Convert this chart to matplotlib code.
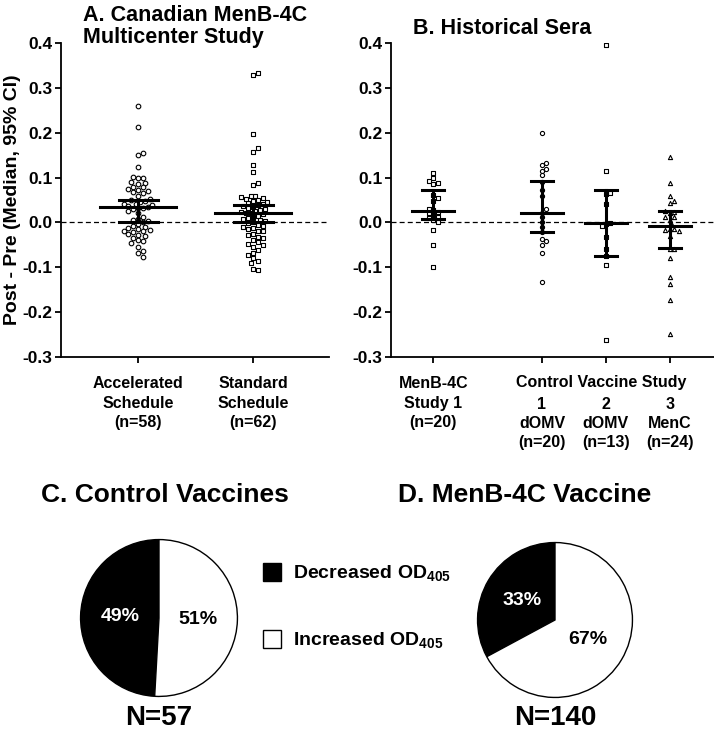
import numpy as np
import matplotlib
matplotlib.use("Agg")
import matplotlib.pyplot as plt
from matplotlib.patches import Patch
from matplotlib.ticker import FormatStrFormatter
import matplotlib.transforms as mtransforms

plt.rcParams["font.family"] = ["Liberation Sans", "DejaVu Sans"]
plt.rcParams["font.weight"] = "bold"
plt.rcParams["axes.labelweight"] = "bold"
plt.rcParams["axes.unicode_minus"] = False
plt.rcParams["mathtext.fontset"] = "custom"
plt.rcParams["mathtext.rm"] = "Liberation Sans:bold"
plt.rcParams["mathtext.bf"] = "Liberation Sans:bold"

# ---- Panel A: Canadian MenB-4C multicenter study (post - pre OD) ----
accelerated = [0.260, 0.213, 0.154, 0.151, 0.123, 0.102, 0.100, 0.098, 0.090, 0.088,
               0.085, 0.080, 0.078, 0.075, 0.072, 0.070, 0.067, 0.065, 0.060, 0.052,
               0.050, 0.047, 0.045, 0.042, 0.040, 0.038, 0.036, 0.035, 0.033, 0.032,
               0.030, 0.025, 0.020, 0.012, 0.008, 0.005, 0.003, 0.000, -0.003, -0.008,
               -0.010, -0.012, -0.015, -0.017, -0.018, -0.020, -0.022, -0.025, -0.028,
               -0.030, -0.035, -0.040, -0.042, -0.045, -0.055, -0.063, -0.068, -0.077]
standard = [0.333, 0.328, 0.198, 0.165, 0.158, 0.128, 0.113, 0.087, 0.083, 0.060,
            0.058, 0.057, 0.055, 0.053, 0.050, 0.048, 0.045, 0.043, 0.040, 0.038,
            0.037, 0.035, 0.032, 0.030, 0.028, 0.025, 0.023, 0.022, 0.020, 0.018,
            0.015, 0.012, 0.010, 0.008, 0.005, 0.003, 0.000, -0.002, -0.005, -0.008,
            -0.010, -0.013, -0.015, -0.018, -0.020, -0.025, -0.028, -0.032, -0.035,
            -0.040, -0.043, -0.047, -0.050, -0.055, -0.062, -0.068, -0.072, -0.080,
            -0.085, -0.090, -0.104, -0.106]
a_groups = [accelerated, standard]
a_labels = ["Accelerated\nSchedule\n(n=58)", "Standard\nSchedule\n(n=62)"]
a_markers = ["o", "s"]
a_median = [0.034, 0.022]
a_ci_low = [0.002, 0.000]
a_ci_high = [0.049, 0.039]

# ---- Panel B: historical sera ----
menb_study1 = [0.110, 0.098, 0.092, 0.089, 0.086, 0.062, 0.055, 0.048, 0.030, 0.027,
               0.023, 0.020, 0.017, 0.013, 0.010, 0.006, 0.001, -0.016, -0.051, -0.100]
ctrl1_domv = [0.200, 0.133, 0.128, 0.120, 0.115, 0.105, 0.090, 0.072, 0.060, 0.030,
              0.022, 0.012, 0.000, -0.010, -0.022, -0.037, -0.042, -0.050, -0.068, -0.132]
ctrl2_domv = [0.395, 0.115, 0.066, 0.063, 0.042, -0.002, -0.004, -0.007, -0.033,
              -0.059, -0.075, -0.096, -0.262]
ctrl3_menc = [0.145, 0.089, 0.058, 0.047, 0.043, 0.025, 0.024, 0.022, 0.013, 0.012,
              0.005, -0.005, -0.014, -0.015, -0.016, -0.018, -0.031, -0.059, -0.060,
              -0.079, -0.122, -0.137, -0.172, -0.248]
b_groups = [menb_study1, ctrl1_domv, ctrl2_domv, ctrl3_menc]
b_pos = [0, 1.7, 2.7, 3.7]
b_labels = ["MenB-4C\nStudy 1\n(n=20)", "1\ndOMV\n(n=20)", "2\ndOMV\n(n=13)", "3\nMenC\n(n=24)"]
b_group_label = "Control Vaccine Study"
b_markers = ["s", "o", "s", "^"]
b_median = [0.025, 0.022, -0.002, -0.008]
b_ci_low = [0.007, -0.021, -0.075, -0.057]
b_ci_high = [0.072, 0.092, 0.073, 0.025]

# ---- Panels C/D: subjects with decreased / increased OD405 ----
control_counts = [28, 29]   # decreased, increased
menb_counts = [46, 94]

Y_PX = 447.0  # pixels per OD unit on the y axis


def swarm(vals, d_px, x_px):
    """Simple deterministic beeswarm offsets (in data x units)."""
    ys = np.asarray(vals) * Y_PX
    order = np.argsort(np.abs(ys - np.median(ys)))
    placed = []
    xs = np.zeros(len(vals))
    steps = [0.0]
    for k in range(1, 40):
        steps += [k * d_px * 0.5, -k * d_px * 0.5]
    for i in order:
        for s in steps:
            if all((s - px) ** 2 + (ys[i] - py) ** 2 >= d_px ** 2 for px, py in placed):
                placed.append((s, ys[i]))
                xs[i] = s / x_px
                break
    return xs


def dot_panel(ax, groups, pos, markers, med, lo, hi, x_px, msize, d_px):
    for g, x0, m, md, l, h in zip(groups, pos, markers, med, lo, hi):
        off = swarm(g, d_px, x_px)
        ax.scatter(x0 + off, g, marker=m, s=msize, facecolor="white",
                   edgecolor="black", linewidth=0.8, zorder=3)
        ax.plot([x0, x0], [l, h], color="black", lw=2.2, zorder=4)
        ax.plot([x0 - 0.17, x0 + 0.17], [l, l], color="black", lw=2.2, zorder=4)
        ax.plot([x0 - 0.17, x0 + 0.17], [h, h], color="black", lw=2.2, zorder=4)
        ax.plot([x0 - 0.33, x0 + 0.33], [md, md], color="black", lw=2.2, zorder=4)
    ax.axhline(0, color="black", lw=0.9, ls=(0, (4, 2.5)), zorder=2)
    ax.set_ylim(-0.3, 0.4)
    ax.set_yticks(np.arange(-0.3, 0.41, 0.1))
    ax.yaxis.set_major_formatter(FormatStrFormatter("%.1f"))
    for side in ["top", "right"]:
        ax.spines[side].set_visible(False)
    for side in ["left", "bottom"]:
        ax.spines[side].set_linewidth(1.3)
    ax.tick_params(width=1.3, length=4, labelsize=12.5, pad=2)
    ax.tick_params(axis="x", labelsize=11.5, pad=10)


fig = plt.figure(figsize=(7.14, 7.3), dpi=100)

axA = fig.add_axes([61 / 714, 1 - 357 / 730, 268 / 714, 314 / 730])
dot_panel(axA, a_groups, [0, 1], a_markers, a_median, a_ci_low, a_ci_high,
          115, 11, 4.8)
axA.set_xlim(-0.67, 1.66)
axA.set_xticks([0, 1])
axA.set_xticklabels(a_labels, linespacing=1.35)
axA.set_ylabel("Post - Pre (Median, 95% CI)", fontsize=14, labelpad=1)
fig.text(83 / 714, 1 - 5 / 730, "A. Canadian MenB-4C\nMulticenter Study",
         ha="left", va="top", fontsize=15.5, linespacing=1.05)

axB = fig.add_axes([391 / 714, 1 - 357 / 730, 323 / 714, 314 / 730])
dot_panel(axB, b_groups, b_pos, b_markers, b_median, b_ci_low, b_ci_high,
          64, 9, 4.4)
axB.set_xlim(-0.66, 4.39)
axB.set_xticks(b_pos)
axB.set_xticklabels(b_labels, linespacing=1.35)
for tick in axB.xaxis.get_major_ticks()[1:]:
    tick.set_pad(24.5)
trans = mtransforms.blended_transform_factory(axB.transData, fig.transFigure)
axB.text(2.62, 1 - 387 / 730, b_group_label, transform=trans,
         ha="center", va="baseline", fontsize=11.5)
fig.text(413 / 714, 1 - 18 / 730, "B. Historical Sera", ha="left", va="top",
         fontsize=15.5)


def pie_panel(rect, counts, title, title_x):
    ax = fig.add_axes(rect)
    wedges, texts, autotexts = ax.pie(
        counts, colors=["black", "white"], startangle=90, counterclock=True,
        autopct="%.0f%%", pctdistance=0.5,
        wedgeprops=dict(edgecolor="black", linewidth=1.0),
        textprops=dict(fontsize=14, weight="bold"))
    autotexts[0].set_color("white")
    autotexts[1].set_color("black")
    ax.set_xlim(-1.02, 1.02)
    ax.set_ylim(-1.02, 1.02)
    cx = rect[0] + rect[2] / 2
    fig.text(cx, 1 - 718 / 730, "N=%d" % sum(counts), ha="center", va="center",
             fontsize=20)
    fig.text(title_x, 1 - 495 / 730, title, ha="left", va="center", fontsize=19)
    return ax


pie_panel([79 / 714, 1 - 698 / 730, 160 / 714, 160 / 730], control_counts,
          "C. Control Vaccines", 41 / 714)
pie_panel([476 / 714, 1 - 699 / 730, 158 / 714, 158 / 730], menb_counts,
          "D. MenB-4C Vaccine", 398 / 714)

fig.legend(handles=[Patch(facecolor="black", edgecolor="black"),
                    Patch(facecolor="white", edgecolor="black")],
           labels=[r"Decreased OD$_{405}$", r"Increased OD$_{405}$"],
           loc="center left", bbox_to_anchor=(263 / 714, 1 - 607 / 730),
           frameon=False, borderpad=0, borderaxespad=0,
           handlelength=0.95, handleheight=1.05,
           labelspacing=2.4, handletextpad=0.6,
           prop=dict(weight="bold", size=14))

fig.savefig("out.png", dpi=100)
